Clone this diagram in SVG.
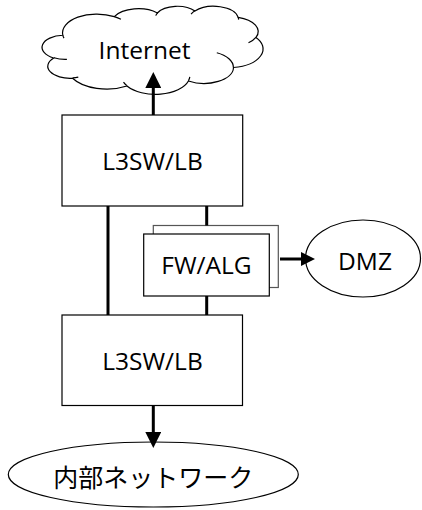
<svg xmlns="http://www.w3.org/2000/svg" width="422" height="510" viewBox="0 0 422 510">
<style>
.box{fill:#fff;stroke:#000;stroke-width:1.2}
.back{fill:#fff;stroke:#555;stroke-width:1.2}
.lbl{font-family:"Open Sans","Liberation Sans",sans-serif;font-size:24.5px;fill:#000;text-anchor:middle}
.jp{font-family:"Noto Sans CJK JP",sans-serif;font-size:25px;fill:#000;text-anchor:middle}
.conn{fill:none;stroke:#000;stroke-width:3}
.cloud{fill:#fff;stroke:#000;stroke-width:1.2}
</style>
<defs>
<marker id="ah" markerUnits="userSpaceOnUse" markerWidth="16" markerHeight="16" refX="0" refY="8" orient="auto"><path d="M0,0 L16,8 L0,16 z" fill="#000"/></marker>
<marker id="ahs" markerUnits="userSpaceOnUse" markerWidth="14" markerHeight="14" refX="0" refY="7" orient="auto"><path d="M0,0 L14,7 L0,14 z" fill="#000"/></marker>
</defs>
<rect width="422" height="510" fill="#fff"/>
<g id="internet">
<g transform="translate(43,6) scale(0.0050926,0.0020370)">
<path class="cloud" vector-effect="non-scaling-stroke" d="M3900 14370 A6753 9190 0 0 1 14005 5202 A5333 7267 0 0 1 22457 3430 A4365 5945 0 0 1 29834 2479 A4857 6595 0 0 1 38319 5575 A5333 7273 0 0 1 41819 15459 A6775 9220 0 0 1 37405 30201 A5785 7867 0 0 1 28557 36811 A6752 9215 0 0 1 16482 39264 A7720 10543 0 0 1 5806 35471 A4360 5918 0 0 1 2115 25550 A4345 5945 0 0 1 3900 14370 Z"/>
<path class="cloud" style="fill:none" vector-effect="non-scaling-stroke" d="M4693 26177 A4345 5945 0 0 1 2160 25380 M6928 34899 A4360 5918 0 0 1 5820 35281 M16478 39090 A6752 9215 0 0 1 15809 37348 M28827 34751 A6752 9215 0 0 1 28560 36660 M34129 22954 A5785 7867 0 0 1 37380 30090 M41798 15354 A5333 7273 0 0 1 40350 18030 M38324 5426 A4857 6595 0 0 1 38400 6690 M29078 3952 A4857 6595 0 0 1 29820 2339 M22141 4720 A4365 5945 0 0 1 22500 3331 M14000 5192 A6753 9190 0 0 1 15300 6540 M4127 15789 A6753 9190 0 0 1 3900 14370"/>
</g>
<text class="lbl" x="144.5" y="59">Internet</text>
</g>
<g id="l3sw-top">
<rect class="box" x="62" y="115" width="180.7" height="91"/>
<text class="lbl" x="152.5" y="169.5">L3SW/LB</text>
</g>
<g id="fw-alg">
<rect class="back" x="153.3" y="225.5" width="125" height="62"/>
<rect class="box" x="143.7" y="234" width="125.6" height="62"/>
<text class="lbl" x="206.5" y="274">FW/ALG</text>
</g>
<g id="dmz">
<ellipse class="box" cx="363" cy="258.5" rx="57.5" ry="38.5"/>
<text class="lbl" x="365" y="270">DMZ</text>
</g>
<g id="l3sw-bottom">
<rect class="box" x="62" y="315" width="180.5" height="90.5"/>
<text class="lbl" x="152.5" y="370">L3SW/LB</text>
</g>
<g id="internal-net">
<ellipse class="box" cx="153.3" cy="474.5" rx="145" ry="32.5"/>
<text class="jp" x="153.3" y="487">内部ネットワーク</text>
</g>
<g id="connectors">
<path class="conn" d="M153.3 115 V88" marker-end="url(#ah)"/>
<path class="conn" d="M108 206 V315"/>
<path class="conn" d="M206.7 206 V225.5"/>
<path class="conn" d="M206.7 296 V315"/>
<path class="conn" d="M280 259 H301" marker-end="url(#ahs)"/>
<path class="conn" d="M153.3 405.5 V432" marker-end="url(#ah)"/>
</g>
</svg>
